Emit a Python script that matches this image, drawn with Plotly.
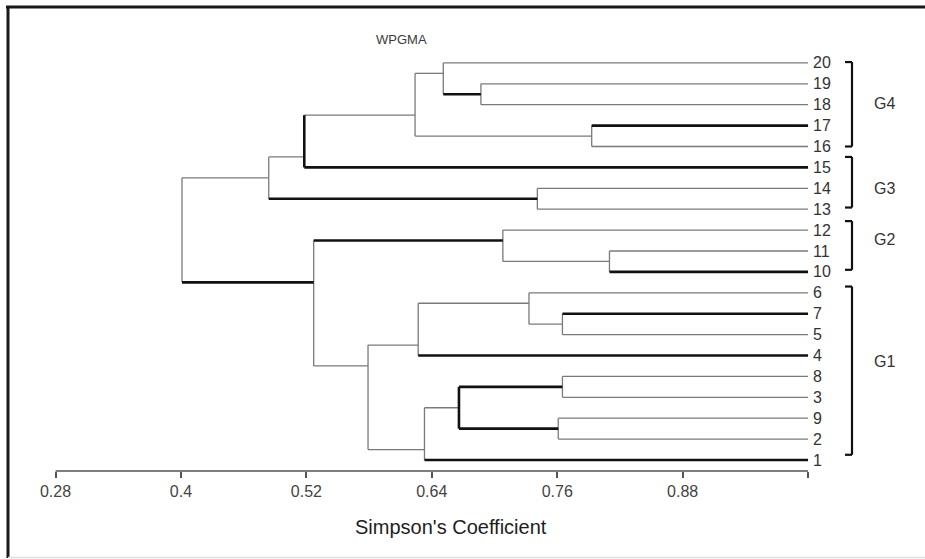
import plotly.graph_objects as go

# ---------------- data ----------------
leaf_order = ["1", "2", "9", "3", "8", "4", "5", "7", "6", "10",
              "11", "12", "13", "14", "15", "16", "17", "18", "19", "20"]  # bottom -> top

node_names = ["a", "b", "c", "d", "e", "f", "g", "h", "i", "j",
              "k", "l", "m", "n", "o", "p", "q", "r", "root"]
upper_child = ["19", "20", "17", "b", "d", "14", "e", "11", "12", "7",
               "6", "k", "8", "9", "m", "o", "l", "i", "g"]
lower_child = ["18", "a", "16", "c", "15", "13", "f", "10", "h", "5",
               "j", "4", "3", "2", "n", "1", "p", "q", "r"]
similarity = [0.687, 0.651, 0.793, 0.624, 0.518, 0.741, 0.484, 0.810, 0.708, 0.765,
              0.733, 0.627, 0.765, 0.761, 0.666, 0.633, 0.579, 0.527, 0.401]

group_names = ["G4", "G3", "G2", "G1"]
group_top = [20.04, 15.5, 12.43, 9.3]      # bracket extents (leaf units)
group_bottom = [16.0, 13.08, 10.1, 1.25]
group_label_y = [18.05, 14.0, 11.53, 5.7]

tick_values = [0.28, 0.40, 0.52, 0.64, 0.76, 0.88, 1.00]
tick_labels = ["0.28", "0.4", "0.52", "0.64", "0.76", "0.88", ""]

# ---------------- styles ----------------
bold_branches = {"a", "17", "15", "f", "r", "i", "10", "4", "7", "1", "m", "n"}
bold_verticals = {"e", "o"}
THIN = dict(color="#7a7a7a", width=1.3)
THICK = dict(color="#111111", width=2.6)
TEXT = "#333333"
FONT = "Liberation Sans, Arial"

# ---------------- geometry (layout) ----------------
W, H = 925, 559
ML, MR, MT, MB = 55, 2, 30, 88
PW, PH = W - ML - MR, H - MT - MB
XMIN, XMAX = 0.28, 0.28 + PW / 1045.8
LEAF_PX = 20.9
YMIN = 1 - (471 - 460) / LEAF_PX
YMAX = YMIN + PH / LEAF_PX


def px(x):
    return (x - ML) / PW


def py(y):
    return (H - MB - y) / PH


# ---------------- tree ----------------
leaf_pos = {lab: i + 1 for i, lab in enumerate(leaf_order)}
leaf_x = 1.0
node_x, node_y, node_leaves = {}, {}, {}
for lab in leaf_order:
    node_x[lab] = leaf_x
    node_y[lab] = leaf_pos[lab]
    node_leaves[lab] = [leaf_pos[lab]]
for name, up, lo, s in zip(node_names, upper_child, lower_child, similarity):
    node_x[name] = s
    node_leaves[name] = node_leaves[up] + node_leaves[lo]
    node_y[name] = (min(node_leaves[up]) + max(node_leaves[lo])) / 2

thin_x, thin_y, thick_x, thick_y = [], [], [], []


def add(seg_x, seg_y, bold):
    tx, ty = (thick_x, thick_y) if bold else (thin_x, thin_y)
    tx += seg_x + [None]
    ty += seg_y + [None]


for name, up, lo, s in zip(node_names, upper_child, lower_child, similarity):
    add([s, s], [node_y[up], node_y[lo]], name in bold_verticals)
    for ch in (up, lo):
        add([s, node_x[ch]], [node_y[ch], node_y[ch]], ch in bold_branches)

fig = go.Figure()
fig.add_trace(go.Scatter(x=thin_x, y=thin_y, mode="lines", line=THIN,
                         hoverinfo="skip", showlegend=False))
fig.add_trace(go.Scatter(x=thick_x, y=thick_y, mode="lines", line=THICK,
                         hoverinfo="skip", showlegend=False))

annotations = []
for lab in leaf_order:
    annotations.append(dict(text=lab, xref="x", yref="y", x=leaf_x, y=leaf_pos[lab],
                            xanchor="left", yanchor="middle", xshift=3, showarrow=False,
                            font=dict(family=FONT, size=16, color=TEXT)))

shapes = []
# x axis baseline
shapes.append(dict(type="line", xref="x", yref="paper", x0=XMIN, x1=1.0, y0=0, y1=0,
                   line=dict(color="#555555", width=1.5)))
# group brackets
for top, bot in zip(group_top, group_bottom):
    xb, xt = px(852), px(845)
    for x0, y0, x1, y1 in [(xb, top, xb, bot), (xt, top, xb, top), (xt, bot, xb, bot)]:
        shapes.append(dict(type="line", xref="paper", yref="y", x0=x0, y0=y0, x1=x1, y1=y1,
                           line=dict(color="#111111", width=2.2)))
# frame
shapes.append(dict(type="line", xref="paper", yref="paper", x0=px(6), x1=px(925),
                   y0=py(7), y1=py(7), line=dict(color="#1a1a1a", width=3)))
shapes.append(dict(type="line", xref="paper", yref="paper", x0=px(8), x1=px(8),
                   y0=py(6), y1=py(558), line=dict(color="#1a1a1a", width=3)))
shapes.append(dict(type="line", xref="paper", yref="paper", x0=px(8), x1=px(925),
                   y0=py(557.5), y1=py(557.5), line=dict(color="#dddddd", width=1.5)))

for g, yl in zip(group_names, group_label_y):
    annotations.append(dict(text=g, xref="paper", yref="y", x=px(872), y=yl,
                            xanchor="left", yanchor="middle", showarrow=False,
                            font=dict(family=FONT, size=16, color=TEXT)))
annotations.append(dict(text="WPGMA", xref="paper", yref="paper", x=px(401), y=py(39),
                        xanchor="center", yanchor="middle", showarrow=False,
                        font=dict(family=FONT, size=13, color="#3a3a3a")))
annotations.append(dict(text="Simpson's Coefficient", xref="paper", yref="paper",
                        x=px(451), y=py(527), xanchor="center", yanchor="middle",
                        showarrow=False,
                        font=dict(family=FONT, size=20, color="#1e1e1e")))

fig.update_layout(
    width=W, height=H,
    margin=dict(l=ML, r=MR, t=MT, b=MB),
    paper_bgcolor="white", plot_bgcolor="white",
    xaxis=dict(range=[XMIN - 0.0005, XMAX], tickvals=tick_values, ticktext=tick_labels,
               ticks="outside", ticklen=6, tickwidth=1.5, tickcolor="#555555",
               showline=False, showgrid=False, zeroline=False,
               tickfont=dict(family=FONT, size=16, color="#444444")),
    yaxis=dict(range=[YMIN, YMAX], visible=False, showgrid=False, zeroline=False),
    shapes=shapes, annotations=annotations,
    showlegend=False,
)

fig.write_html("out.html", config={"displayModeBar": False},
               post_script="document.body.style.margin='0px';")
